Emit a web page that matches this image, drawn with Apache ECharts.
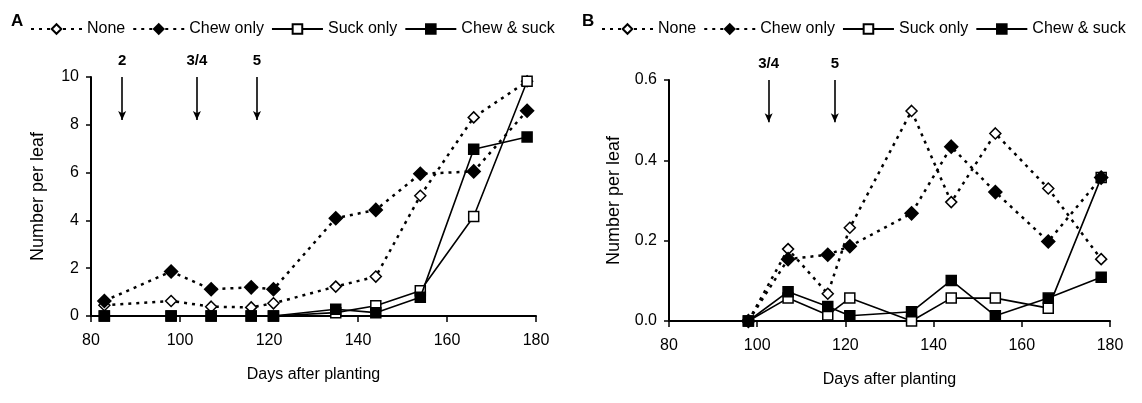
<!DOCTYPE html>
<html>
<head>
<meta charset="utf-8">
<script src="https://cdn.jsdelivr.net/npm/echarts@6/dist/echarts.min.js"></script>
<style>
  html, body { margin: 0; padding: 0; background: #fff; }
  #chart { width: 1142px; height: 403px; }
</style>
</head>
<body>
<div id="chart"></div>
<script>
// panel A
var daysA = [83, 98, 107, 116, 121, 135, 144, 154, 166, 178];
var noneA = [0.45, 0.63, 0.39, 0.36, 0.53, 1.23, 1.65, 5.03, 8.31, 9.82];
var chewA = [0.63, 1.86, 1.12, 1.2, 1.12, 4.09, 4.44, 5.95, 6.05, 8.59];
var suckA = [0, 0, 0, 0, 0, 0.14, 0.43, 1.06, 4.16, 9.82];
var bothA = [0, 0, 0, 0, 0, 0.28, 0.14, 0.78, 6.98, 7.49];
var arrowsA = [{ day: 87, label: '2' }, { day: 103.8, label: '3/4' }, { day: 117.3, label: '5' }];

// panel B
var daysB = [98, 107, 116, 121, 135, 144, 154, 166, 178];
var noneB = [0, 0.179, 0.068, 0.232, 0.523, 0.296, 0.467, 0.33, 0.154];
var chewB = [0, 0.154, 0.165, 0.186, 0.268, 0.434, 0.321, 0.198, 0.357];
var suckB = [0, 0.057, 0.015, 0.057, 0, 0.057, 0.057, 0.032, 0.357];
var bothB = [0, 0.073, 0.036, 0.013, 0.023, 0.101, 0.013, 0.057, 0.109];
var arrowsB = [{ day: 102.6, label: '3/4' }, { day: 117.6, label: '5' }];

var names = ['None', 'Chew only', 'Suck only', 'Chew & suck'];
var FONT = '"Liberation Sans", Arial, sans-serif';

function pairs(xs, ys) {
    return xs.map(function(x, i) { return [x, ys[i]]; });
}

function arrowLines(list, top, bottom) {
    return list.map(function(a) {
        return [
            { coord: [a.day, top], name: a.label },
            { coord: [a.day, bottom] }
        ];
    });
}

// one style per treatment (z: chew diamonds drawn over the squares)
var styles = [
    { symbol: 'diamond', symbolSize: 11, fill: '#fff', z: 2, line: { type: [3, 5], width: 2.5 } },
    { symbol: 'diamond', symbolSize: 13, fill: '#000', z: 5, line: { type: [3, 5], width: 2.5 } },
    { symbol: 'rect', symbolSize: 10, fill: '#fff', z: 3, line: { type: 'solid', width: 1.6 } },
    { symbol: 'rect', symbolSize: 10, fill: '#000', z: 4, line: { type: 'solid', width: 1.6 } }
];

function makeSeries(idx, xs, ys, panel, arrows) {
    var st = styles[idx];
    var s = {
        name: names[idx],
        type: 'line',
        xAxisIndex: panel,
        yAxisIndex: panel,
        data: pairs(xs, ys),
        symbol: st.symbol,
        symbolSize: st.symbolSize,
        showAllSymbol: true,
        lineStyle: { color: '#000', width: st.line.width, type: st.line.type },
        itemStyle: { color: st.fill, borderColor: '#000', borderWidth: 1.5 },
        z: st.z
    };
    if (arrows) {
        s.markLine = {
            silent: true,
            animation: false,
            symbol: ['none', 'arrow'],
            symbolSize: [6, 9],
            lineStyle: { color: '#000', width: 1.6, type: 'solid' },
            label: {
                show: true, position: 'start', distance: 9,
                formatter: '{b}', color: '#000', fontWeight: 'bold',
                fontSize: 15, fontFamily: FONT
            },
            data: arrows
        };
    }
    return s;
}

var axisCommon = {
    axisLine: { show: true, lineStyle: { color: '#000', width: 2 } },
    axisTick: { show: true, length: 6, lineStyle: { color: '#000', width: 1.5 } },
    splitLine: { show: false },
    axisLabel: { color: '#000', fontSize: 16, fontFamily: FONT }
};

function xAxisFor(grid) {
    return Object.assign({}, axisCommon, {
        type: 'value', gridIndex: grid, min: 80, max: 180, interval: 20,
        name: 'Days after planting', nameLocation: 'middle', nameGap: 51,
        nameTextStyle: { color: '#000', fontSize: 16, fontFamily: FONT },
        axisLabel: Object.assign({}, axisCommon.axisLabel, { margin: 17 })
    });
}

function legendAt(left) {
    return {
        left: left, top: 16, itemWidth: 51, itemHeight: 12, itemGap: 7,
        data: names,
        textStyle: { color: '#000', fontSize: 16, fontFamily: FONT }
    };
}

var chart = echarts.init(document.getElementById('chart'));
chart.setOption({
    animation: false,
    backgroundColor: '#fff',
    graphic: [
        { type: 'text', left: 11, top: 13, style: { text: 'A', font: 'bold 17px ' + FONT, fill: '#000' } },
        { type: 'text', left: 582, top: 13, style: { text: 'B', font: 'bold 17px ' + FONT, fill: '#000' } }
    ],
    legend: [legendAt(25), legendAt(596)],
    grid: [
        { left: 91, top: 77, width: 445, height: 239 },
        { left: 669, top: 80, width: 441, height: 241 }
    ],
    xAxis: [xAxisFor(0), xAxisFor(1)],
    yAxis: [
        Object.assign({}, axisCommon, {
            type: 'value', gridIndex: 0, min: 0, max: 10, interval: 2,
            name: 'Number per leaf', nameLocation: 'middle', nameGap: 44,
            nameTextStyle: { color: '#000', fontSize: 18, fontFamily: FONT },
            axisTick: { show: true, length: 5, lineStyle: { color: '#000', width: 1.5 } },
            axisLabel: Object.assign({}, axisCommon.axisLabel, { margin: 12 })
        }),
        Object.assign({}, axisCommon, {
            type: 'value', gridIndex: 1, min: 0, max: 0.6, interval: 0.2,
            name: 'Number per leaf', nameLocation: 'middle', nameGap: 46,
            nameTextStyle: { color: '#000', fontSize: 18, fontFamily: FONT },
            axisTick: { show: true, length: 5, lineStyle: { color: '#000', width: 1.5 } },
            axisLabel: Object.assign({}, axisCommon.axisLabel, {
                margin: 12,
                formatter: function(v) { return v.toFixed(1); }
            })
        })
    ],
    series: [
        makeSeries(0, daysA, noneA, 0, arrowLines(arrowsA, 10, 8.2)),
        makeSeries(1, daysA, chewA, 0),
        makeSeries(2, daysA, suckA, 0),
        makeSeries(3, daysA, bothA, 0),
        makeSeries(0, daysB, noneB, 1, arrowLines(arrowsB, 0.6, 0.495)),
        makeSeries(1, daysB, chewB, 1),
        makeSeries(2, daysB, suckB, 1),
        makeSeries(3, daysB, bothB, 1)
    ]
});
</script>
</body>
</html>
